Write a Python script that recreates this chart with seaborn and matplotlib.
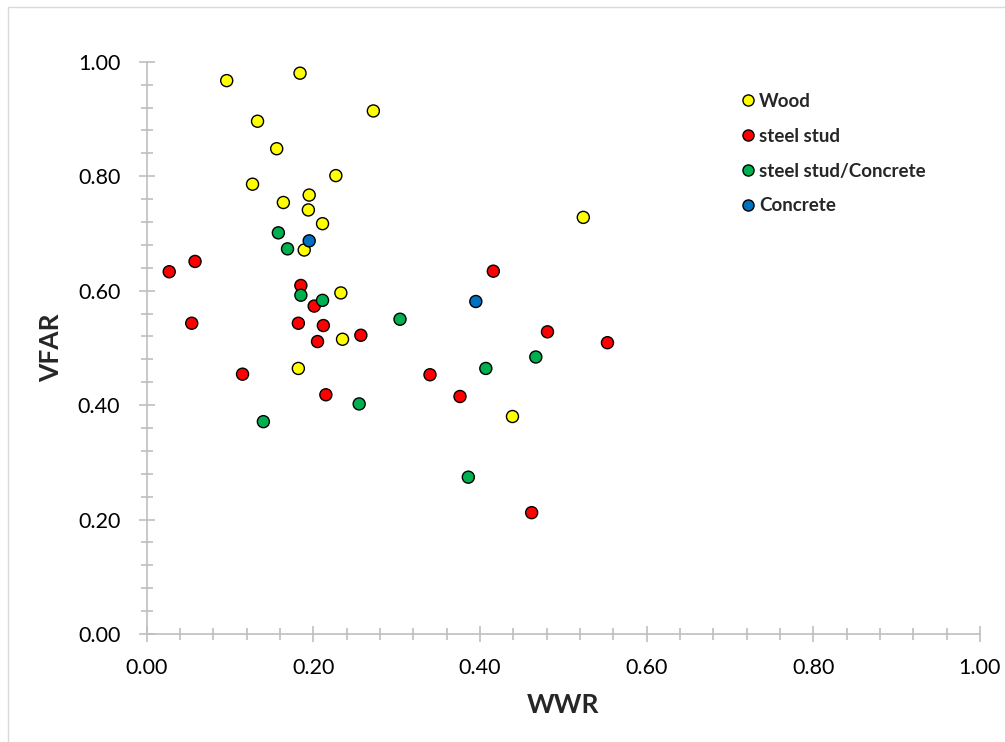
import pandas as pd
import seaborn as sns
import matplotlib.pyplot as plt
from matplotlib.ticker import MultipleLocator, FormatStrFormatter
from matplotlib.lines import Line2D
from matplotlib.patches import Rectangle

# values (WWR, VFAR) per wall type
wood_x = [0.096, 0.184, 0.272, 0.133, 0.156, 0.227, 0.127, 0.195, 0.164, 0.194,
          0.211, 0.189, 0.233, 0.235, 0.182, 0.439, 0.524]
wood_y = [0.967, 0.980, 0.914, 0.896, 0.848, 0.801, 0.786, 0.767, 0.754, 0.741,
          0.717, 0.671, 0.596, 0.515, 0.464, 0.380, 0.728]

steel_x = [0.027, 0.058, 0.185, 0.201, 0.054, 0.182, 0.212, 0.257, 0.205, 0.115,
           0.215, 0.416, 0.481, 0.553, 0.340, 0.376, 0.462]
steel_y = [0.633, 0.651, 0.609, 0.573, 0.543, 0.543, 0.539, 0.522, 0.511, 0.454,
           0.418, 0.634, 0.528, 0.509, 0.453, 0.415, 0.212]

steel_conc_x = [0.158, 0.169, 0.185, 0.211, 0.304, 0.255, 0.140, 0.467, 0.407, 0.386]
steel_conc_y = [0.701, 0.673, 0.592, 0.583, 0.550, 0.402, 0.371, 0.484, 0.464, 0.274]

conc_x = [0.195, 0.395]
conc_y = [0.687, 0.581]

types = ['Wood', 'steel stud', 'steel stud/Concrete', 'Concrete']
colors = ['#FFFF00', '#FF0000', '#00B050', '#0070C0']

frames = []
for name, xs, ys in zip(types, [wood_x, steel_x, steel_conc_x, conc_x],
                        [wood_y, steel_y, steel_conc_y, conc_y]):
    frames.append(pd.DataFrame({'WWR': xs, 'VFAR': ys, 'type': name}))
df = pd.concat(frames, ignore_index=True)

sns.set_style('white')
plt.rcParams['font.family'] = ['Lato', 'DejaVu Sans']

fig = plt.figure(figsize=(10.05, 7.42), dpi=100)
ax = fig.add_axes([0.146, 0.1456, 0.829, 0.7712])

sns.scatterplot(data=df, x='WWR', y='VFAR', hue='type', hue_order=types,
                palette=colors, s=75, edgecolor='black', linewidth=1,
                legend=False, ax=ax, clip_on=False, zorder=3)

ax.set_xlim(0, 1)
ax.set_ylim(0, 1)
ax.xaxis.set_major_locator(MultipleLocator(0.2))
ax.xaxis.set_minor_locator(MultipleLocator(0.04))
ax.yaxis.set_major_locator(MultipleLocator(0.2))
ax.yaxis.set_minor_locator(MultipleLocator(0.04))
ax.xaxis.set_major_formatter(FormatStrFormatter('%.2f'))
ax.yaxis.set_major_formatter(FormatStrFormatter('%.2f'))

grey = '#BFBFBF'
sns.despine(ax=ax)
for side in ['left', 'bottom']:
    ax.spines[side].set_color(grey)
    ax.spines[side].set_linewidth(1.2)
ax.tick_params(which='both', bottom=True, left=True)
ax.tick_params(which='major', direction='inout', length=12, width=1.2,
               color=grey, labelsize=15.5, labelcolor='black')
ax.tick_params(which='minor', direction='inout', length=8.5, width=1.2,
               color=grey)
ax.tick_params(axis='x', which='major', pad=11)
ax.tick_params(axis='y', which='major', pad=13)

ax.set_xlabel('WWR', fontsize=19, fontweight='bold')
ax.set_ylabel('VFAR', fontsize=19, fontweight='bold')
ax.xaxis.set_label_coords(0.5, -0.104)
ax.yaxis.set_label_coords(-0.100, 0.5)

handles = [Line2D([], [], marker='o', linestyle='', markerfacecolor=c,
                  markeredgecolor='black', markeredgewidth=1, markersize=8)
           for c in colors]
leg = ax.legend(handles, types, loc='upper left', bbox_to_anchor=(0.690, 0.975),
                frameon=False, handletextpad=0.1, labelspacing=0.95,
                handlelength=1.0, prop={'weight': 'bold', 'size': 13.5})

# light chart-area border
fig.patches.append(Rectangle((8 / 1005, -0.05), 1.2, 1.05 - 7 / 742,
                             transform=fig.transFigure, fill=False,
                             edgecolor='#D9D9D9', linewidth=1))

fig.savefig('out.png', dpi=100)
